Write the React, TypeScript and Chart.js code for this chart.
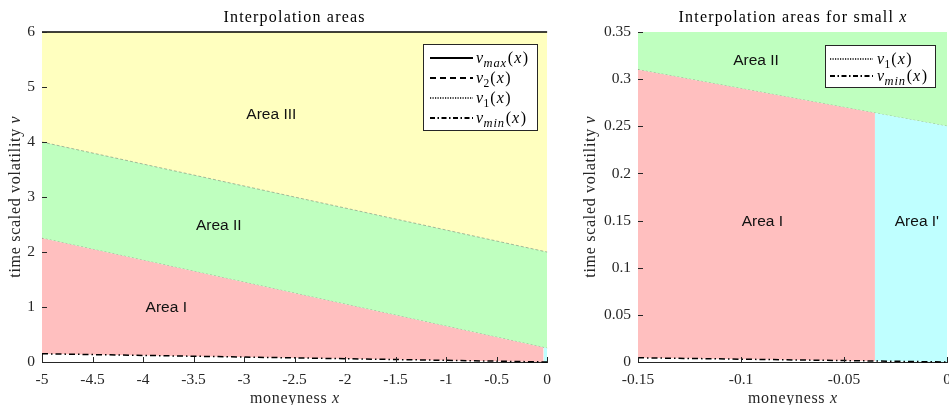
import React, { useEffect, useRef } from "react";
import { Chart, registerables } from "chart.js";
Chart.register(...registerables);

// ---------- data ----------
const xLeft = [-5, 0];
const vmaxLeft = [6, 6];
const v2Left = [4, 2];
const v1Left = [2.25, 0.25];
const vminLeft = [0.15, 0];

const xSplit = -0.035; // boundary between Area I and Area I'
const v1AtSplit = 0.264;

const xRight = [-0.15, 0];
const v1Right = [0.31, 0.25];
const vminRight = [0.0045, 0];

const leftXTicks = [-5, -4.5, -4, -3.5, -3, -2.5, -2, -1.5, -1, -0.5, 0];
const leftYTicks = [0, 1, 2, 3, 4, 5, 6];
const rightXTicks = [-0.15, -0.1, -0.05, 0];
const rightYTicks = [0, 0.05, 0.1, 0.15, 0.2, 0.25, 0.3, 0.35];

const leftAreaNames = ["Area III", "Area II", "Area I"];
const leftAreaX = [-2.73, -3.25, -3.77];
const leftAreaV = [4.49, 2.47, 0.98];

const rightAreaNames = ["Area II", "Area I", "Area I'"];
const rightAreaX = [-0.0927, -0.0896, -0.0146];
const rightAreaV = [0.32, 0.1485, 0.1485];

const leftLegendSubs = ["max", "2", "1", "min"];
const rightLegendSubs = ["1", "min"];

// ---------- styles ----------
const SERIF = '"Liberation Serif", "Times New Roman", serif';
const SANS = '"Liberation Sans", Arial, sans-serif';
const AXIS = "#262626";
const RED = "rgb(255,191,191)";
const GREEN = "rgb(191,255,191)";
const YELLOW = "rgb(255,255,191)";
const CYAN = "rgb(191,255,255)";

const lineStyles: Record<string, { dash: number[]; width: number }> = {
  max: { dash: [], width: 2 },
  "2": { dash: [6, 4], width: 2 },
  "1": { dash: [1.2, 1.3], width: 1.6 },
  min: { dash: [5, 2.5, 1.5, 2.5], width: 2 },
};

type Run = { t: string; it?: boolean; sz?: number; dy?: number; ls?: number; after?: number };

function setFont(ctx: CanvasRenderingContext2D, r: Run, family: string) {
  ctx.font = `${r.it ? "italic " : ""}${r.sz ?? 16}px ${family}`;
  (ctx as any).letterSpacing = `${r.ls ?? 0}px`;
}

function runsWidth(ctx: CanvasRenderingContext2D, runs: Run[], family: string) {
  let w = 0;
  for (const r of runs) {
    setFont(ctx, r, family);
    w += ctx.measureText(r.t).width + (r.after ?? 0);
  }
  return w;
}

function drawRuns(
  ctx: CanvasRenderingContext2D,
  runs: Run[],
  x: number,
  y: number,
  align: "left" | "center",
  family: string,
  color: string
) {
  const w = runsWidth(ctx, runs, family);
  let cx = align === "center" ? x - w / 2 : x;
  ctx.fillStyle = color;
  ctx.textBaseline = "alphabetic";
  ctx.textAlign = "left";
  for (const r of runs) {
    setFont(ctx, r, family);
    ctx.fillText(r.t, cx, y + (r.dy ?? 0));
    cx += ctx.measureText(r.t).width + (r.after ?? 0);
  }
  (ctx as any).letterSpacing = "0px";
}

function mathLabel(sub: string): Run[] {
  const isNum = /^[0-9]+$/.test(sub);
  return [
    { t: "v", it: true, sz: 16, after: 0.5 },
    { t: sub, it: !isNum, sz: isNum ? 11.5 : 12.5, dy: 3.5, ls: isNum ? 0 : 0.8, after: 1 },
    { t: "(", sz: 16, after: 1 },
    { t: "x", it: true, sz: 16, after: 1.5 },
    { t: ")", sz: 16 },
  ];
}

type DecorCfg = {
  title: Run[];
  xTitle: Run[];
  yTitle: Run[];
  yTitleX: number;
  xTitleY: number;
  titleY: number;
  names: string[];
  ax: number[];
  av: number[];
  legend: { x: number; y: number; w: number; h: number; rowY: number[]; subs: string[]; sx0: number; sx1: number; tx: number };
};

function makeDecor(cfg: DecorCfg) {
  return {
    id: "decor",
    afterDraw(chart: any) {
      const ctx: CanvasRenderingContext2D = chart.ctx;
      const ca = chart.chartArea;
      const xs = chart.scales.x;
      const ys = chart.scales.y;
      ctx.save();
      // inward ticks
      ctx.strokeStyle = AXIS;
      ctx.lineWidth = 1;
      ctx.setLineDash([]);
      for (const t of xs.ticks) {
        const px = Math.round(xs.getPixelForValue(t.value)) + 0.5;
        ctx.beginPath();
        ctx.moveTo(px, ca.bottom);
        ctx.lineTo(px, ca.bottom - 5);
        ctx.stroke();
      }
      for (const t of ys.ticks) {
        const py = Math.round(ys.getPixelForValue(t.value)) + 0.5;
        ctx.beginPath();
        ctx.moveTo(ca.left, py);
        ctx.lineTo(ca.left + 5, py);
        ctx.stroke();
      }
      // area labels
      ctx.font = `15.5px ${SANS}`;
      ctx.fillStyle = "#111";
      ctx.textAlign = "center";
      ctx.textBaseline = "middle";
      cfg.names.forEach((n, i) => {
        ctx.fillText(n, xs.getPixelForValue(cfg.ax[i]), ys.getPixelForValue(cfg.av[i]));
      });
      // titles
      const cx = (ca.left + ca.right) / 2;
      drawRuns(ctx, cfg.title, cx, cfg.titleY, "center", SERIF, "#000");
      drawRuns(ctx, cfg.xTitle, cx, cfg.xTitleY, "center", SERIF, AXIS);
      ctx.save();
      ctx.translate(cfg.yTitleX, (ca.top + ca.bottom) / 2);
      ctx.rotate(-Math.PI / 2);
      drawRuns(ctx, cfg.yTitle, 0, 0, "center", SERIF, AXIS);
      ctx.restore();
      // legend
      const L = cfg.legend;
      ctx.fillStyle = "#fff";
      ctx.fillRect(L.x, L.y, L.w, L.h);
      ctx.strokeStyle = AXIS;
      ctx.lineWidth = 1;
      ctx.setLineDash([]);
      ctx.strokeRect(L.x + 0.5, L.y + 0.5, L.w, L.h);
      L.subs.forEach((s, i) => {
        const st = lineStyles[s];
        const y = L.rowY[i];
        ctx.strokeStyle = "#000";
        ctx.lineWidth = st.width;
        ctx.setLineDash(st.dash);
        ctx.beginPath();
        ctx.moveTo(L.sx0, y);
        ctx.lineTo(L.sx1, y);
        ctx.stroke();
        ctx.setLineDash([]);
        drawRuns(ctx, mathLabel(s), L.tx, y + 5, "left", SERIF, "#000");
      });
      ctx.restore();
    },
  };
}

function pts(xs: number[], vs: number[]) {
  return xs.map((x, i) => ({ x, y: vs[i] }));
}

function scaleOpts(min: number, max: number, ticks: number[], fit: (s: any) => void, pad: number) {
  return {
    type: "linear" as const,
    min,
    max,
    grid: { display: false, drawTicks: false },
    border: { display: true, color: AXIS, width: 1 },
    ticks: {
      color: AXIS,
      font: { family: SERIF, size: 15.5 },
      padding: pad,
      maxRotation: 0,
      autoSkip: false,
      callback: (v: any) => String(v),
    },
    afterBuildTicks: (s: any) => {
      s.ticks = ticks.map((value) => ({ value }));
    },
    afterFit: fit,
  };
}

const region = (data: any[], fill: any, color: string) => ({
  data,
  fill,
  backgroundColor: color,
  borderColor: "transparent",
  borderWidth: 0,
  pointRadius: 0,
});

const line = (data: any[], style: { dash: number[]; width: number }, color: string, fill: any = false, bg = "transparent") => ({
  data,
  fill,
  backgroundColor: bg,
  borderColor: color,
  borderWidth: style.width,
  borderDash: style.dash,
  pointRadius: 0,
  clip: 4,
});

const xTitleRuns: Run[] = [{ t: "moneyness ", ls: 0.7 }, { t: "x", it: true }];
const yTitleRuns: Run[] = [{ t: "time scaled volatility ", ls: 0.7 }, { t: "v", it: true }];

function buildLeft() {
  return {
    type: "line" as const,
    data: {
      datasets: [
        line(pts(xLeft, vminLeft), { dash: [6, 3, 1.5, 3], width: 1.5 }, "#000"),
        region(pts([xLeft[0], xSplit], [v1Left[0], v1AtSplit]), 0, RED),
        region(pts([xSplit, xLeft[1]], [v1AtSplit, v1Left[1]]), 0, CYAN),
        line(pts(xLeft, v1Left), { dash: [2, 2], width: 0.8 }, "rgba(0,0,0,0.35)"),
        line(pts(xLeft, v2Left), { dash: [3, 2], width: 0.8 }, "rgba(0,0,0,0.35)", 3, GREEN),
        line(pts(xLeft, vmaxLeft), { dash: [], width: 1.5 }, "#000", 4, YELLOW),
      ],
    },
    options: {
      responsive: false,
      animation: false as const,
      layout: { padding: { top: 32, right: 12, left: 0, bottom: 0 } },
      plugins: { legend: { display: false }, tooltip: { enabled: false }, title: { display: false } },
      scales: {
        x: scaleOpts(-5, 0, leftXTicks, (s) => (s.height = 43), 9),
        y: scaleOpts(0, 6, leftYTicks, (s) => (s.width = 42), 7),
      },
    },
    plugins: [
      makeDecor({
        title: [{ t: "Interpolation areas", ls: 1.2 }],
        xTitle: xTitleRuns,
        yTitle: yTitleRuns,
        yTitleX: 20,
        xTitleY: 403,
        titleY: 22,
        names: leftAreaNames,
        ax: leftAreaX,
        av: leftAreaV,
        legend: { x: 423, y: 44, w: 114, h: 86, rowY: [58, 78, 98, 118], subs: leftLegendSubs, sx0: 430, sx1: 473, tx: 476 },
      }),
    ],
  };
}

function buildRight() {
  return {
    type: "line" as const,
    data: {
      datasets: [
        line(pts(xRight, vminRight), { dash: [6, 3, 1.5, 3], width: 1.5 }, "#000"),
        region(pts([xRight[0], xSplit], [v1Right[0], v1AtSplit]), 0, RED),
        region(pts([xSplit, xRight[1]], [v1AtSplit, v1Right[1]]), 0, CYAN),
        line(pts(xRight, v1Right), { dash: [2, 2], width: 0.8 }, "rgba(0,0,0,0.35)", "end", GREEN),
      ],
    },
    options: {
      responsive: false,
      animation: false as const,
      layout: { padding: { top: 32, right: 13, left: 0, bottom: 0 } },
      plugins: { legend: { display: false }, tooltip: { enabled: false }, title: { display: false } },
      scales: {
        x: scaleOpts(-0.15, 0, rightXTicks, (s) => (s.height = 43), 9),
        y: scaleOpts(0, 0.35, rightYTicks, (s) => (s.width = 78), 7),
      },
    },
    plugins: [
      makeDecor({
        title: [{ t: "Interpolation areas for small ", ls: 1.2 }, { t: "x", it: true }],
        xTitle: xTitleRuns,
        yTitle: yTitleRuns,
        yTitleX: 35,
        xTitleY: 403,
        titleY: 22,
        names: rightAreaNames,
        ax: rightAreaX,
        av: rightAreaV,
        legend: { x: 265, y: 45, w: 110, h: 42, rowY: [59, 76], subs: rightLegendSubs, sx0: 270, sx1: 313, tx: 317 },
      }),
    ],
  };
}

function ChartCanvas({ build, left, width }: { build: () => any; left: number; width: number }) {
  const ref = useRef<HTMLCanvasElement>(null);
  useEffect(() => {
    const chart = new Chart(ref.current as HTMLCanvasElement, build());
    return () => chart.destroy();
  }, []);
  return (
    <canvas
      ref={ref}
      width={width}
      height={405}
      style={{ position: "absolute", left, top: 0, width, height: 405, display: "block" }}
    />
  );
}

export default function App() {
  return (
    <div
      style={{
        position: "fixed",
        left: 0,
        top: 0,
        width: 949,
        height: 405,
        overflow: "hidden",
        background: "#fff",
      }}
    >
      <ChartCanvas build={buildLeft} left={0} width={560} />
      <ChartCanvas build={buildRight} left={560} width={400} />
    </div>
  );
}
